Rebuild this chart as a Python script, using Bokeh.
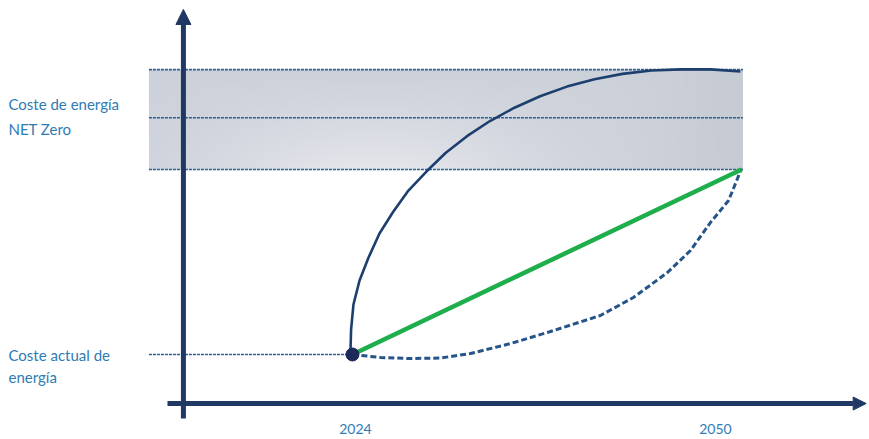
import numpy as np
from bokeh.plotting import figure
from bokeh.models import Range1d, Arrow, NormalHead, Label
from bokeh.embed import file_html
from bokeh.resources import INLINE

# --- data -----------------------------------------------------------------
tick_years = [2024, 2050]
tick_labels = ["2024", "2050"]

start_year = 2024
current_cost = 1.0

# Net-zero cost band (low / central / high)
band_years = [2009.3, 2052.2]
band_levels = [2.0, 2.28, 2.54]

# Fast path: steep rise, reaching the upper net-zero level early
fast_years = [2023.85, 2023.9, 2024.07, 2024.51, 2025.16, 2025.95, 2026.93,
              2028.04, 2029.34, 2030.72, 2032.27, 2033.93, 2035.70, 2037.55,
              2039.49, 2041.48, 2043.50, 2045.59, 2047.69, 2049.86, 2052.02]
fast_cost = [1.0, 1.135, 1.270, 1.400, 1.524, 1.654, 1.770,
             1.886, 1.989, 2.089, 2.180, 2.262, 2.334, 2.396,
             2.448, 2.488, 2.517, 2.535, 2.541, 2.541, 2.530]

# Linear path
linear_years = [2024, 2052.1]
linear_cost = [1.0, 2.0]

# Delayed path: flat first, sharp rise at the end
slow_years = [2024.0, 2026.02, 2028.19, 2030.36, 2032.52, 2035.41, 2038.30,
              2041.91, 2044.29, 2046.75, 2048.41, 2049.86, 2051.16, 2052.10]
slow_cost = [1.0, 0.984, 0.978, 0.981, 1.005, 1.059, 1.124,
             1.211, 1.308, 1.443, 1.562, 1.714, 1.832, 2.005]

# --- figure ----------------------------------------------------------------
W, H = 869, 439
p = figure(width=W, height=H, x_range=Range1d(1998.58, 2061.34),
           y_range=Range1d(0.5405, 2.9135), output_backend="svg",
           toolbar_location=None, min_border=0, outline_line_color=None,
           background_fill_color="white", border_fill_color="white")
p.axis.visible = False
p.grid.visible = False

NAVY = "#1f3864"
CURVE = "#1d3f6e"
BAND_LINE = "#2b5f92"
TEXT = "#2f7bb5"

# Grey shaded band with a soft light sheen
bh, bw = 80, 480
u = np.linspace(0, 1, bw)[None, :]
v = np.linspace(0, 1, bh)[:, None]          # 0 = bottom row
sheen = np.exp(-((u - 0.38) / 0.28) ** 2) * (1 - v) ** 1.2
edge = np.exp(-((u - 1.0) / 0.12) ** 2)
base = np.array([205, 209, 218], dtype=float)
light = np.array([234, 235, 239], dtype=float)
rgb = base[None, None, :] + (light - base)[None, None, :] * (0.8 * sheen)[..., None]
rgb = rgb - 6 * edge[..., None]
rgb = np.clip(rgb, 0, 255).astype(np.uint8)
img = np.empty((bh, bw), dtype=np.uint32)
view = img.view(dtype=np.uint8).reshape((bh, bw, 4))
view[..., 0] = rgb[..., 0]
view[..., 1] = rgb[..., 1]
view[..., 2] = rgb[..., 2]
view[..., 3] = 255
p.image_rgba(image=[img], x=band_years[0], y=band_levels[0],
             dw=band_years[1] - band_years[0],
             dh=band_levels[-1] - band_levels[0])

# Band level lines
for lvl in band_levels:
    p.line(band_years, [lvl, lvl], line_color=BAND_LINE, line_width=1.6,
           line_dash="3 1")

# Current cost reference line
p.line([band_years[0], start_year], [current_cost, current_cost],
       line_color=BAND_LINE, line_width=1.4, line_dash="3 1")

# Axes as arrows
p.add_layout(Arrow(end=NormalHead(size=15, fill_color=NAVY, line_color=NAVY),
                   x_start=2011.79, y_start=0.654, x_end=2011.79, y_end=2.865,
                   line_color=NAVY, line_width=5))
p.add_layout(Arrow(end=NormalHead(size=13, fill_color=NAVY, line_color=NAVY),
                   x_start=2010.64, y_start=0.735, x_end=2061.1, y_end=0.735,
                   line_color=NAVY, line_width=5))

# Paths
p.line(fast_years, fast_cost, line_color=CURVE, line_width=2.6,
       line_join="round")
p.line(slow_years, slow_cost, line_color="#24548a", line_width=3,
       line_dash="6 3", line_join="round")
p.line(linear_years, linear_cost, line_color="#1fae4c", line_width=4.5)
p.scatter([start_year], [current_cost], size=13, fill_color="#1b2a5a",
          line_color="#1b2a5a")

# Text
FONT = "Lato"
for txt, sy in [("Coste de energía", H - 103), ("NET Zero", H - 128),
                ("Coste actual de", H - 354), ("energía", H - 376)]:
    p.add_layout(Label(x=8, y=sy, x_units="screen", y_units="screen",
                       text=txt, text_font=FONT, text_font_size="15px",
                       text_color=TEXT, text_baseline="middle",
                       text_align="left"))

for yr, lab in zip(tick_years, tick_labels):
    p.add_layout(Label(x=yr, y=H - 428, x_units="data", y_units="screen",
                       text=lab, text_font=FONT, text_font_size="14px",
                       text_color=TEXT, text_baseline="middle",
                       text_align="center", x_offset=3))

open("out.html", "w").write(file_html(p, INLINE))
